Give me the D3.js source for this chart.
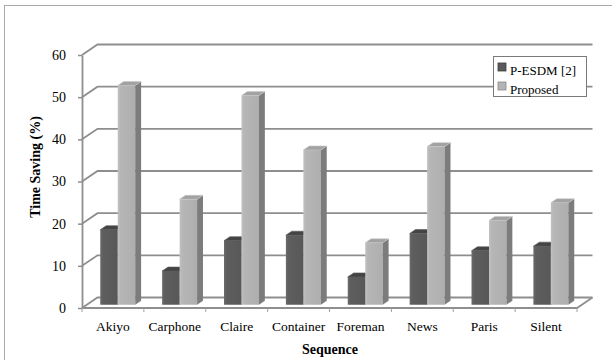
<!DOCTYPE html>
<html>
<head>
<meta charset="utf-8">
<script src="https://cdn.jsdelivr.net/npm/d3@7"></script>
<style>
  html, body { margin: 0; padding: 0; background: #fff; }
  svg { display: block; }
</style>
</head>
<body>
<svg id="chart" width="612" height="360"></svg>
<script>
// Sequences on the category axis
const categories = ["Akiyo", "Carphone", "Claire", "Container", "Foreman", "News", "Paris", "Silent"];
// Series names (legend)
const seriesNames = ["P-ESDM [2]", "Proposed"];
// Time saving (%) per sequence
const pesdmValues = [17.8, 8.0, 15.2, 16.5, 6.6, 16.9, 12.8, 13.9];
const proposedValues = [52.0, 25.0, 49.6, 36.7, 14.7, 37.5, 20.0, 24.2];
// Value axis ticks
const yTicks = [0, 10, 20, 30, 40, 50, 60];

const FONT = "Liberation Serif";
const svg = d3.select("#chart").attr("font-family", FONT);

// Front plane geometry and depth offset of the 3D box
const left = 82, right = 577, baseY = 308, topY = 55;
const DX = 15.5, DY = -10.5;
const barD0 = 0.31, barD1 = 0.69;   // bar depth span as fractions of the box depth

const y = d3.scaleLinear().domain([0, 60]).range([baseY, topY]);
const x0 = d3.scaleBand().domain(categories).range([left, right]).paddingInner(0.435).paddingOuter(0.2175);
const x1 = d3.scaleBand().domain(seriesNames).range([0, x0.bandwidth()]);

const P = (px, v, d) => [px + d * DX, y(v) + d * DY];

// Chart frame
svg.append("rect").attr("x", 4.5).attr("y", 5.5).attr("width", 640).attr("height", 400)
  .attr("fill", "none").attr("stroke", "#a8a8a8").attr("stroke-width", 1);

const gridColor = "#8e8e8e";
const grid = svg.append("g").attr("fill", "none").attr("stroke", gridColor).attr("stroke-width", 1.8);

// Gridlines: short diagonal on the side wall, then across the back wall
yTicks.forEach(t => {
  const a = P(left, t, 0), b = P(left, t, 1), c = P(right, t, 1);
  grid.append("path").attr("d", d3.line()([a, b, c]));
});
// Floor: front edge and right diagonal
grid.append("path").attr("d", d3.line()([P(left, 0, 0), P(right, 0, 0), P(right, 0, 1)]));

// Value axis
const yAxis = d3.axisLeft(y).tickValues(yTicks).tickSize(4).tickPadding(12).tickSizeOuter(0);
const gy = svg.append("g").attr("transform", `translate(${left},0)`).call(yAxis)
  .attr("font-family", FONT).attr("font-size", 14);
gy.select(".domain").attr("stroke", gridColor).attr("stroke-width", 1.8);
gy.selectAll(".tick line").attr("stroke", gridColor).attr("stroke-width", 1.5);

// Category axis labels
const xAxis = d3.axisBottom(x0).tickSize(0).tickPadding(13.5);
const gx = svg.append("g").attr("transform", `translate(0,${baseY})`).call(xAxis)
  .attr("font-family", FONT).attr("font-size", 13.5);
gx.select(".domain").remove();

// Category boundary ticks on the front floor edge
const step = x0.step();
svg.append("g").selectAll("line").data(d3.range(categories.length + 1)).join("line")
  .attr("x1", i => left + i * step).attr("x2", i => left + i * step)
  .attr("y1", baseY).attr("y2", baseY + 4)
  .attr("stroke", "#a0a0a0").attr("stroke-width", 1);

// Bar shading
const defs = svg.append("defs");
function grad(id, stops) {
  const g = defs.append("linearGradient").attr("id", id).attr("x1", 0).attr("x2", 1).attr("y1", 0).attr("y2", 0);
  stops.forEach(([o, c]) => g.append("stop").attr("offset", o).attr("stop-color", c));
}
grad("darkFront", [[0, "#6a6a6a"], [0.15, "#5e5e5e"], [1, "#585858"]]);
grad("lightFront", [[0, "#c2c2c2"], [0.15, "#b6b6b6"], [1, "#aeaeae"]]);
const styles = [
  { front: "url(#darkFront)", side: "#474747", top: "#444444", topEdge: "#5a5a5a" },
  { front: "url(#lightFront)", side: "#7c7c7c", top: "#a2a2a2", topEdge: "#c8c8c8" }
];

const rows = categories.map((c, i) => ({ cat: c, vals: [pesdmValues[i], proposedValues[i]] }));
const bars = svg.append("g");
rows.forEach(r => {
  r.vals.forEach((v, si) => {
    const st = styles[si];
    const xa = x0(r.cat) + x1(seriesNames[si]);
    const xb = xa + x1.bandwidth();
    const g = bars.append("g");
    // front face
    const fa = P(xa, v, barD0), fb = P(xb, 0, barD0);
    g.append("rect").attr("x", fa[0]).attr("y", fa[1])
      .attr("width", fb[0] - fa[0]).attr("height", fb[1] - fa[1]).attr("fill", st.front);
    // right side face
    g.append("path").attr("fill", st.side)
      .attr("d", d3.line()([P(xb, 0, barD0), P(xb, v, barD0), P(xb, v, barD1), P(xb, 0, barD1)]) + "Z");
    // top face
    g.append("path").attr("fill", st.top).attr("stroke", st.topEdge).attr("stroke-width", 0.6)
      .attr("d", d3.line()([P(xa, v, barD0), P(xb, v, barD0), P(xb, v, barD1), P(xa, v, barD1)]) + "Z");
  });
});

// Axis titles
svg.append("text").attr("transform", "translate(40,167) rotate(-90)")
  .attr("text-anchor", "middle").attr("font-size", 14).attr("font-weight", "bold")
  .text("Time Saving (%)");
svg.append("text").attr("x", 330).attr("y", 354)
  .attr("text-anchor", "middle").attr("font-size", 14).attr("font-weight", "bold")
  .text("Sequence");

// Legend
const lg = svg.append("g");
lg.append("rect").attr("x", 493.5).attr("y", 56.5).attr("width", 93).attr("height", 40)
  .attr("fill", "#fff").attr("stroke", "#7a7a7a").attr("stroke-width", 1);
const legendFill = ["#5a5a5a", "#b4b4b4"];
const legendEdge = ["#3c3c3c", "#8a8a8a"];
seriesNames.forEach((n, i) => {
  const yy = 63 + i * 19;
  lg.append("rect").attr("x", 498).attr("y", yy).attr("width", 8).attr("height", 8)
    .attr("fill", legendFill[i]).attr("stroke", legendEdge[i]).attr("stroke-width", 0.8);
  lg.append("text").attr("x", 510).attr("y", yy + 11.5).attr("font-size", 13).text(n);
});
</script>
</body>
</html>
